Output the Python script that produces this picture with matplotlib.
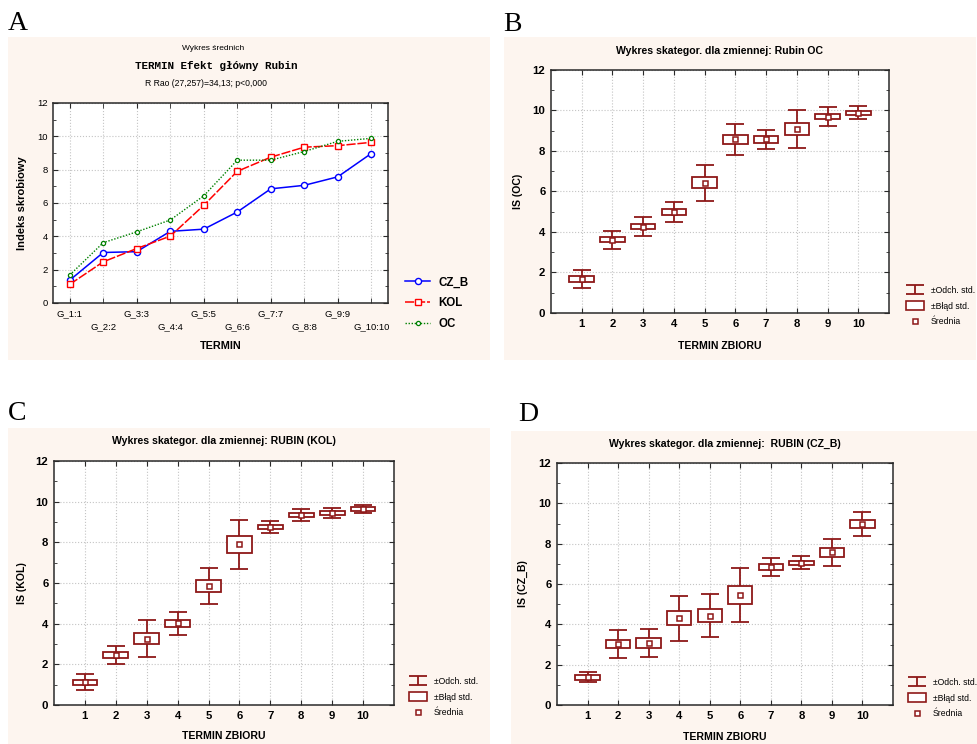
"""Four-panel starch index figure: mean profile (A) and per-variety box plots (B-D)."""

import matplotlib.pyplot as plt
from matplotlib.lines import Line2D
from matplotlib.patches import Rectangle
from matplotlib.ticker import MultipleLocator

plt.rcParams["font.family"] = ["Liberation Sans", "DejaVu Sans"]

W, H = 978, 744
BEIGE = "#fdf5ef"
DARK = "#8e1818"
GRID = "#c4c4c4"

terms = list(range(1, 11))
a_labels = [f"G_{i}:{i}" for i in terms]

# means per variety
mean_czb = [1.37, 3.03, 3.08, 4.30, 4.43, 5.46, 6.85, 7.06, 7.57, 8.97]
mean_kol = [1.12, 2.47, 3.27, 4.01, 5.86, 7.90, 8.75, 9.35, 9.44, 9.64]
mean_oc = [1.68, 3.62, 4.27, 4.98, 6.43, 8.57, 8.57, 9.09, 9.70, 9.88]

# +/- standard error (box half-height)
se_oc = [0.14, 0.12, 0.14, 0.16, 0.28, 0.23, 0.16, 0.29, 0.12, 0.10]
se_kol = [0.12, 0.16, 0.29, 0.17, 0.29, 0.40, 0.11, 0.11, 0.11, 0.08]
se_czb = [0.11, 0.21, 0.24, 0.35, 0.33, 0.43, 0.14, 0.10, 0.23, 0.19]

# +/- standard deviation (whisker half-length)
sd_oc = [0.44, 0.44, 0.48, 0.49, 0.89, 0.77, 0.49, 0.92, 0.49, 0.32]
sd_kol = [0.39, 0.44, 0.90, 0.56, 0.89, 1.21, 0.30, 0.30, 0.24, 0.19]
sd_czb = [0.25, 0.68, 0.71, 1.11, 1.06, 1.32, 0.45, 0.33, 0.68, 0.58]


def px_rect(x0, y0, x1, y1):
    return [x0 / W, 1 - y1 / H, (x1 - x0) / W, (y1 - y0) / H]


def fx(x):
    return x / W


def fy(y):
    return 1 - y / H


def style_axes(ax, labelsize, weight):
    for s in ax.spines.values():
        s.set_color("#2a2a2a")
        s.set_linewidth(1.1)
    ax.tick_params(which="both", direction="in", top=True, right=True,
                   labelsize=labelsize, color="#2a2a2a")
    ax.tick_params(which="major", length=3.5)
    ax.tick_params(which="minor", length=2.5)
    for lab in ax.get_xticklabels(which="both") + ax.get_yticklabels():
        lab.set_fontweight(weight)


fig = plt.figure(figsize=(W / 100, H / 100), dpi=100)

# beige panel backgrounds
for x0, y0, x1, y1 in [(8, 37, 490, 360), (504, 37, 976, 360),
                       (8, 428, 490, 744), (511, 431, 978, 744)]:
    fig.add_artist(Rectangle((fx(x0), fy(y1)), (x1 - x0) / W, (y1 - y0) / H,
                             transform=fig.transFigure, facecolor=BEIGE,
                             edgecolor="none", zorder=0))

for letter, x, y in [("A", 8, 30), ("B", 503, 31), ("C", 8, 420), ("D", 518, 421)]:
    fig.text(fx(x), fy(y), letter, family="Liberation Serif", fontsize=20,
             va="baseline", ha="left")

# ---- Panel A: means plot ----
ax = fig.add_axes(px_rect(53, 103, 388, 303))
ax.plot(terms, mean_czb, color="#0000ff", lw=1.1, marker="o", ms=4.4,
        mfc="white", mew=1, label="CZ_B")
ax.plot(terms, mean_kol, color="#ff0000", lw=1.1, ls=(0, (6, 1.2)), marker="s", ms=4.4,
        mfc="white", mew=1, label="KOL")
ax.plot(terms, mean_oc, color="#008000", lw=1, ls=(0, (1, 1.2)), marker="o", ms=3,
        mfc="white", mew=0.9, label="OC")
ax.set_xlim(0.5, 10.5)
ax.set_ylim(0, 12)
ax.set_xticks(terms[0::2], a_labels[0::2])
ax.set_xticks(terms[1::2], a_labels[1::2], minor=True)
ax.yaxis.set_major_locator(MultipleLocator(2))
ax.yaxis.set_minor_locator(MultipleLocator(1))
ax.xaxis.grid(True, which="both", ls=":", color=GRID, lw=0.8)
ax.yaxis.grid(True, which="major", ls=":", color=GRID, lw=0.8)
style_axes(ax, 6.8, "normal")
ax.tick_params(axis="x", which="major", pad=4.5, length=3.5)
ax.tick_params(axis="x", which="minor", pad=14, length=3.5)
ax.set_xlabel("TERMIN", fontsize=7.8, fontweight="bold")
ax.xaxis.label.set_va("center")
ax.xaxis.set_label_coords(0.5, -(346 - 303) / 200)
ax.set_ylabel("Indeks skrobiowy", fontsize=8, fontweight="bold")
ax.yaxis.label.set_va("center")
ax.yaxis.set_label_coords(-(53 - 22) / 335, 0.5)
fig.text(fx(213), fy(48), "Wykres średnich", fontsize=6, ha="center", va="center")
fig.text(fx(216), fy(66), "TERMIN Efekt główny Rubin", family="Liberation Mono",
         fontweight="bold", fontsize=7.8, ha="center", va="center")
fig.text(fx(206), fy(84), "R Rao (27,257)=34,13; p<0,000", fontsize=6.2,
         ha="center", va="center")
handles, labels = ax.get_legend_handles_labels()
fig.legend(handles, labels, loc="center left", bbox_to_anchor=(fx(405), fy(303)),
           frameon=False, prop={"weight": "bold", "size": 8.3}, handlelength=2.2,
           handletextpad=0.7, labelspacing=0.75, borderpad=0, borderaxespad=0)


# ---- Panels B-D: categorised box plots ----
def box_panel(rect, title, title_y, ylabel, ylab_x, xlab_y, mean, se, sd, leg_xy):
    x0, y0, x1, y1 = rect
    ax = fig.add_axes(px_rect(*rect))
    sd_h = ax.errorbar(terms, mean, yerr=sd, fmt="none", ecolor=DARK,
                       elinewidth=1.3, capsize=6.5, capthick=1.3, zorder=3)
    ax.bar(terms, [2 * s for s in se], bottom=[m - s for m, s in zip(mean, se)],
           width=0.8, facecolor="white", edgecolor=DARK, linewidth=1.3, zorder=4)
    ax.plot(terms, mean, ls="none", marker="s", ms=3.6, mfc="white", mec=DARK,
            mew=1.1, zorder=5)
    ax.set_xlim(0, 11)
    ax.set_ylim(0, 12)
    ax.set_xticks(terms)
    ax.yaxis.set_major_locator(MultipleLocator(2))
    ax.yaxis.set_minor_locator(MultipleLocator(1))
    ax.xaxis.grid(True, ls=":", color=GRID, lw=0.8)
    ax.yaxis.grid(True, which="major", ls=":", color=GRID, lw=0.8)
    style_axes(ax, 8.2, "bold")
    ax.tick_params(which="major", pad=4)
    fig.text(fx((x0 + x1) / 2), fy(title_y), title, fontsize=7.6,
             fontweight="bold", ha="center", va="center")
    ax.set_xlabel("TERMIN ZBIORU", fontsize=7.6, fontweight="bold")
    ax.xaxis.label.set_va("center")
    ax.xaxis.set_label_coords(0.5, -(xlab_y - y1) / (y1 - y0))
    ax.set_ylabel(ylabel, fontsize=7.6, fontweight="bold")
    ax.yaxis.label.set_va("center")
    ax.yaxis.set_label_coords(-(x0 - ylab_x) / (x1 - x0), 0.5)
    box_h = Rectangle((0, 0), 1, 1, facecolor="white", edgecolor=DARK, linewidth=1.2)
    mean_h = Line2D([], [], ls="none", marker="s", ms=3.6, mfc="white", mec=DARK, mew=1.1)
    fig.legend([sd_h, box_h, mean_h], ["±Odch. std.", "±Błąd std.", "Średnia"],
               loc="center left", bbox_to_anchor=(fx(leg_xy[0]), fy(leg_xy[1])),
               frameon=False, fontsize=6.2, handlelength=2.1, handleheight=1.1,
               handletextpad=0.8, labelspacing=0.75, borderpad=0, borderaxespad=0)
    return ax


box_panel((551, 70, 889, 313), "Wykres skategor. dla zmiennej: Rubin OC", 51,
          "IS (OC)", 518, 346, mean_oc, se_oc, sd_oc, (906, 306))
box_panel((54, 461, 394, 705), "Wykres skategor. dla zmiennej: RUBIN (KOL)", 441,
          "IS (KOL)", 22, 736, mean_kol, se_kol, sd_kol, (409, 697))
box_panel((557, 463, 893, 705), "Wykres skategor. dla zmiennej:  RUBIN (CZ_B)", 444,
          "IS (CZ_B)", 523, 737, mean_czb, se_czb, sd_czb, (908, 698))

fig.savefig("out.png", dpi=100, facecolor="white")
